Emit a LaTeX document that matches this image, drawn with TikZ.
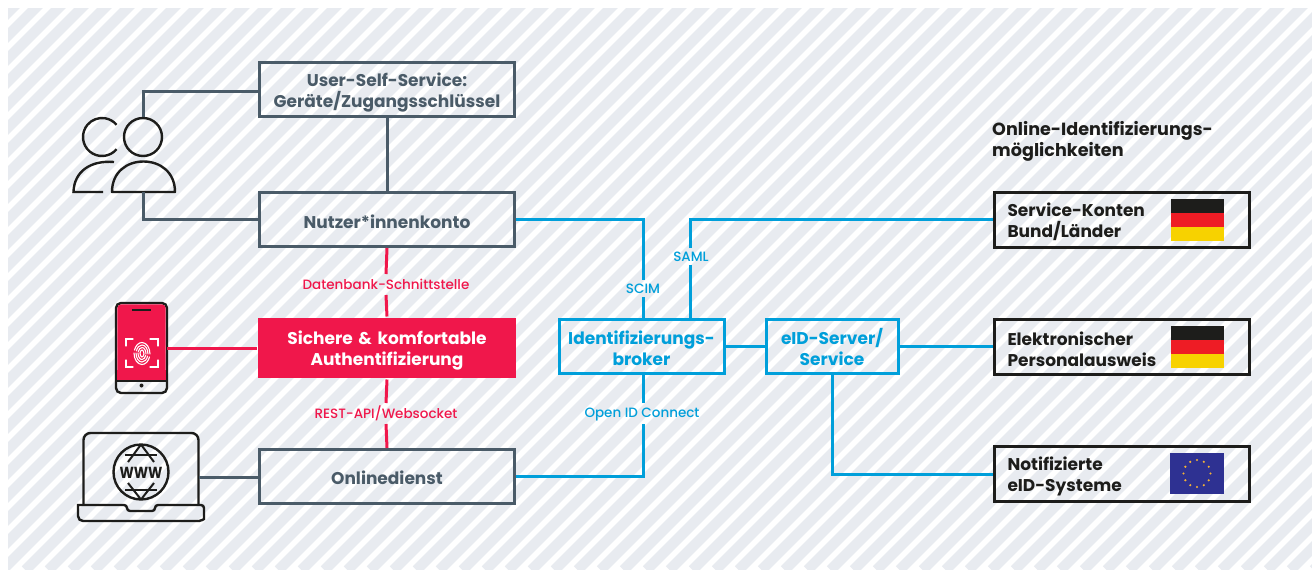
\documentclass[tikz,border=0pt]{standalone}
\usepackage{fontspec}
\setmainfont{Poppins}
\newfontfamily\medfont{Poppins Medium}
\usetikzlibrary{calc}
\definecolor{stripe}{HTML}{E8EBF0}
\definecolor{slate}{HTML}{4A5B68}
\definecolor{azure}{HTML}{009FDA}
\definecolor{crimson}{HTML}{F0174B}
\definecolor{ink}{HTML}{1D1D1B}
\definecolor{flagred}{HTML}{EE1C25}
\definecolor{flaggold}{HTML}{F7D200}
\definecolor{eublue}{HTML}{2E3192}
\definecolor{eustar}{HTML}{F5B335}
\tikzset{
  rise/.style={execute at begin node={\rule{0pt}{#1}}},
  basebox/.style={draw,line width=3pt,inner sep=0pt,align=center,font=\fontsize{17}{21}\selectfont\bfseries},
  greybox/.style={basebox,draw=slate,text=slate,text width=255pt,minimum height=54pt},
  redbox/.style={basebox,draw=none,fill=crimson,text=white,text width=258pt,minimum height=60pt},
  bluebox/.style={basebox,draw=azure,text=azure,minimum height=54.5pt},
  optbox/.style={basebox,draw=ink,text=ink,align=left,text width=229pt,inner xsep=13pt,minimum height=55pt,rise=19pt},
  lab/.style={inner sep=0pt,font=\fontsize{13.5}{15}\medfont},
  greyline/.style={draw=slate,line width=3pt},
  blueline/.style={draw=azure,line width=3pt},
  redline/.style={draw=crimson,line width=3pt},
  icon/.style={draw=ink,line width=2.4pt},
  flagpart/.style={inner sep=0pt,minimum width=53pt,minimum height=13.6pt,anchor=north west},
  pt0/.style={inner sep=0pt,minimum size=0pt}
}
\begin{document}
\begin{tikzpicture}[x=1pt,y=-1pt]
\useasboundingbox (0,0) rectangle (1312,570);
% hatched ground
\begin{scope}
\clip (8,8) rectangle (1312,570);
\fill[white] (8,8) rectangle (1312,570);
\foreach \c in {-595.5,-572.5,...,1320} {
  \draw[stripe,line width=10.5pt] (\c,570) -- ++(600,-600);
}
\end{scope}
% boxes
\node[greybox,rise=19pt] (user) at (387,89.5) {User-Self-Service:\\Geräte/Zugangsschlüssel};
\node[greybox,rise=19pt] (konto) at (387,219.5) {Nutzer*innenkonto};
\node[redbox,rise=18pt] (auth) at (387,348) {\mbox{Sichere \& komfortable}\\Authentifizierung};
\node[greybox,rise=17pt] (dienst) at (387,476.5) {Onlinedienst};
\node[bluebox,rise=17pt,text width=165pt] (broker) at (641.5,346.5) {Identifizierungs-\\broker};
\node[bluebox,rise=17pt,text width=132pt] (eid) at (832,346.5) {eID-Server/\\Service};
\node[optbox] (sk) at (1122,219.5) {Service-Konten\\Bund/Länder};
\node[optbox] (pa) at (1122,346.5) {Elektronischer\\Personalausweis};
\node[optbox] (not) at (1122,474) {Notifizierte\\eID-Systeme};
\node[anchor=north west,inner sep=0pt,align=left,text=ink,font=\fontsize{17.6}{21}\selectfont\bfseries] (title) at (992,121.5) {Online-Identifizierungs-\\möglichkeiten};
% flags
\node[flagpart,fill=ink] (fa) at (1171,199) {};
\node[flagpart,fill=flagred] (fb) at (fa.south west) {};
\node[flagpart,fill=flaggold] (fc) at (fb.south west) {};
\node[flagpart,fill=ink] (fd) at (1171,326) {};
\node[flagpart,fill=flagred] (fe) at (fd.south west) {};
\node[flagpart,fill=flaggold] (ff) at (fe.south west) {};
\node[inner sep=0pt,minimum width=54pt,minimum height=41pt,fill=eublue] (eu) at (1197,473.5) {};
\foreach \a in {0,30,...,330} {
  \fill[eustar] (eu.center) ++(\a:13.5) circle (1.2);
}
% labels
\node[lab,text=crimson] (l1) at (386,284.5) {Datenbank-Schnittstelle};
\node[lab,text=crimson] (l2) at (386,413.5) {REST-API/Websocket};
\node[lab,text=azure] (l3) at (643,288.5) {SCIM};
\node[lab,text=azure] (l4) at (691,256.5) {SAML};
\node[lab,text=azure] (l5) at (642,415) {Open ID Connect};
% people
\node[circle,pt0,minimum size=38pt,icon,draw] (head) at (143,137) {};
\draw[icon] (102,137) ++(40:19) arc (40:320:19);
\coordinate (bodytop) at (143,192);
\draw[icon,line join=round] (112,192) .. controls (112,172) and (127,161.5) .. (143.5,161.5) .. controls (160,161.5) and (175,172) .. (175,192) -- cycle;
\draw[icon] (103,192) -- (73.5,192) .. controls (74,172) and (90,160) .. (114,162);
% phone
\draw[icon,rounded corners=5pt] (116,303) rectangle (167,393);
\fill[crimson,rounded corners=4pt] (117.3,304.3) rectangle (165.7,381);
\fill[crimson] (117.3,370) rectangle (165.7,381);
\draw[ink,line width=2.4pt] (116.5,381) -- (166.5,381);
\draw[ink,line width=2pt] (132,310) -- (151,310);
\fill[ink] (141.5,385.5) circle (2);
\coordinate (phone) at (167,348);
\begin{scope}[white,line width=1.1pt,line cap=round]
\draw (126,346) -- (126,339) -- (133,339);
\draw (150,339) -- (158,339) -- (158,346);
\draw (126,360) -- (126,367) -- (133,367);
\draw (150,367) -- (158,367) -- (158,360);
\foreach \r/\s in {2/4,4/6.5,6/9,8/11.5} {
  \draw (142-\r,353) arc (180:20:{\r} and {\s});
  \draw (142+\r,354) arc (0:-160:{\r} and {\s});
}
\end{scope}
% laptop
\draw[icon,rounded corners=7pt] (83.5,505) -- (83.5,433) -- (198.5,433) -- (198.5,505);
\draw[icon,rounded corners=3pt] (78,505) -- (127,505) -- (127,511) -- (155,511) -- (155,505) -- (204,505) -- (204,516) [sharp corners] arc (0:90:5) -- (83,521) arc (90:180:5) -- cycle;
\coordinate (laptop) at (198.5,477);
\draw[icon] (141,472) circle (27.5);
\node[inner sep=0pt,text=ink,xscale=.85,font=\fontsize{16}{16}\selectfont\bfseries] (www) at (141,473) {WWW};
\begin{scope}[ink,line width=2pt]
\draw (125,454.5) -- (157,454.5);
\draw (125,490) -- (157,490);
\draw (141,444.5) -- (128,462);
\draw (141,444.5) -- (154,462);
\draw (141,499.5) -- (128,483);
\draw (141,499.5) -- (154,483);
\end{scope}
% connectors
\draw[greyline] (user.south) -- (konto.north);
\draw[greyline] (user.west |- 0,91) -| (head.north);
\draw[greyline] (konto.west) -| (bodytop);
\draw[greyline] (laptop) -- (dienst.west |- laptop);
\draw[redline] (konto.south) -- (l1.north |- 0,274);
\draw[redline] (l1.south |- 0,295) -- (auth.north);
\draw[redline] (auth.south) -- (l2.north |- 0,403);
\draw[redline] (l2.south |- 0,424) -- (dienst.north);
\draw[redline] (phone) -- (auth.west |- phone);
\coordinate (scimtop) at (643,280);
\coordinate (scimbot) at (643,297);
\coordinate (samltop) at (690,248);
\coordinate (samlbot) at (690,265);
\coordinate (oidtop) at (643,403);
\coordinate (oidbot) at (643,424);
\draw[blueline] (konto.east) -| (scimtop);
\draw[blueline] (scimbot) -- (scimbot |- broker.north);
\draw[blueline] (samlbot) -- (samlbot |- broker.north);
\draw[blueline] (samltop) |- (sk.west);
\draw[blueline] (oidtop |- broker.south) -- (oidtop);
\draw[blueline] (oidbot) |- (dienst.east);
\draw[blueline] (broker.east) -- (eid.west);
\draw[blueline] (eid.east) -- (pa.west);
\draw[blueline] (eid.south) |- (not.west);
\end{tikzpicture}
\end{document}
